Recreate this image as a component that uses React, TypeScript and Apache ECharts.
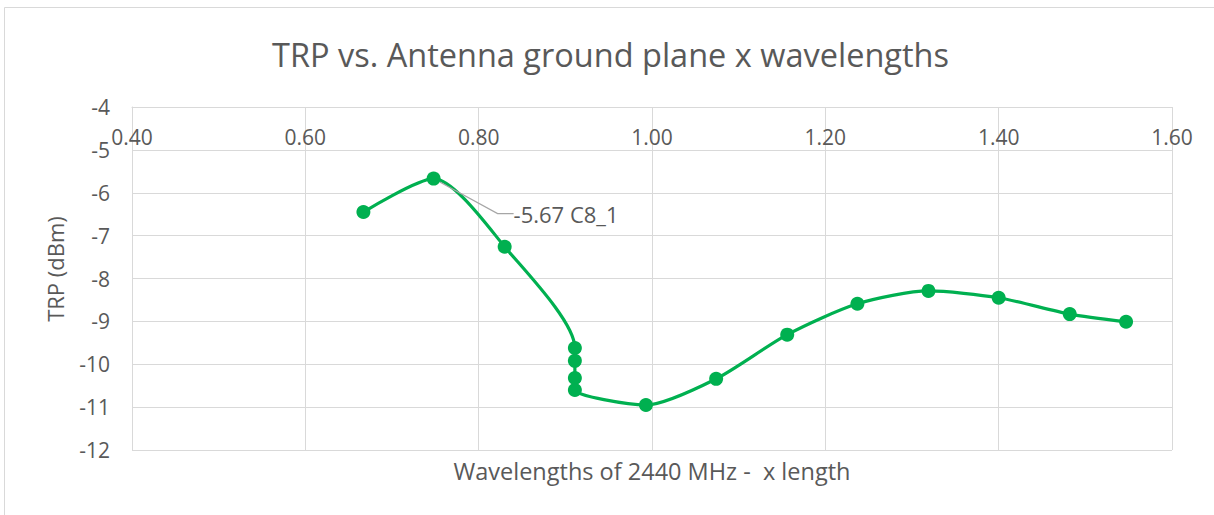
import React, { useEffect, useRef } from "react";
import * as echarts from "echarts";

const xValues = [0.667, 0.748, 0.83, 0.911, 0.911, 0.911, 0.911, 0.993, 1.074, 1.156, 1.237, 1.319, 1.4, 1.482, 1.547];
const trpValues = [-6.45, -5.67, -7.26, -9.62, -9.92, -10.32, -10.6, -10.95, -10.34, -9.31, -8.59, -8.29, -8.45, -8.83, -9.01];
const pointNames = ["", "C8_1", "", "", "", "", "", "", "", "", "", "", "", "", ""];
const titleText = "TRP vs. Antenna ground plane x wavelengths";
const xTitle = "Wavelengths of 2440 MHz -  x length";
const yTitle = "TRP (dBm)";

const FONT = "Open Sans";
const TXT = "#595959";
const GRID = "#d9d9d9";
const GREEN = "#00B050";

export default function App() {
  const ref = useRef<HTMLDivElement>(null);
  useEffect(() => {
    if (!ref.current) return;
    const chart = echarts.init(ref.current, undefined, { renderer: "svg" });
    const data = xValues.map((x, i) => {
      const item: any = { value: [x, trpValues[i]] };
      if (pointNames[i]) {
        item.label = {
          show: true,
          position: "right",
          formatter: `${trpValues[i].toFixed(2)} ${pointNames[i]}`,
          color: TXT,
          fontSize: 22,
          fontFamily: FONT,
        };
        item.labelLine = { show: true, length2: 16, lineStyle: { color: "#a6a6a6", width: 1.2 } };
      }
      return item;
    });
    chart.setOption({
      animation: false,
      textStyle: { fontFamily: FONT },
      title: {
        text: titleText,
        left: 267,
        top: 33,
        textStyle: { fontSize: 32.5, fontWeight: "normal", color: TXT, fontFamily: FONT },
      },
      graphic: [
        {
          type: "rect",
          shape: { x: 4.5, y: 7.5, width: 1400, height: 700 },
          style: { fill: "none", stroke: GRID, lineWidth: 1 },
          silent: true,
        },
        {
          type: "text",
          x: 652,
          y: 471,
          style: {
            text: xTitle,
            fill: TXT,
            fontSize: 23.5,
            fontFamily: FONT,
            textAlign: "center",
            textVerticalAlign: "middle",
          },
        },
        {
          type: "text",
          x: 55,
          y: 269,
          rotation: Math.PI / 2,
          style: {
            text: yTitle,
            fill: TXT,
            fontSize: 22,
            fontFamily: FONT,
            textAlign: "center",
            textVerticalAlign: "middle",
          },
        },
      ],
      grid: { left: 132, right: 42, top: 107, bottom: 65 },
      xAxis: {
        type: "value",
        position: "top",
        min: 0.4,
        max: 1.6,
        interval: 0.2,
        axisLine: { show: true, lineStyle: { color: GRID } },
        axisTick: { show: false },
        splitLine: { show: true, lineStyle: { color: GRID, width: 1 } },
        axisLabel: {
          inside: true,
          margin: 19,
          color: TXT,
          fontSize: 21,
          fontFamily: FONT,
          formatter: (v: number) => v.toFixed(2),
          showMinLabel: true,
          showMaxLabel: true,
        },
      },
      yAxis: {
        type: "value",
        min: -12,
        max: -4,
        interval: 1,
        axisLine: { show: true, lineStyle: { color: GRID } },
        axisTick: { show: false },
        splitLine: { show: true, lineStyle: { color: GRID, width: 1 } },
        axisLabel: { color: TXT, fontSize: 21, fontFamily: FONT, margin: 22 },
      },
      series: [
        {
          type: "line",
          data,
          smooth: 0.25,
          symbol: "circle",
          symbolSize: 14,
          itemStyle: { color: GREEN },
          lineStyle: { color: GREEN, width: 3.2 },
          labelLayout: { dx: 68, dy: 35 },
        },
      ],
    });
    return () => chart.dispose();
  }, []);
  return (
    <div
      ref={ref}
      style={{ position: "absolute", left: 0, top: 0, width: 1214, height: 515, background: "#fff" }}
    />
  );
}
